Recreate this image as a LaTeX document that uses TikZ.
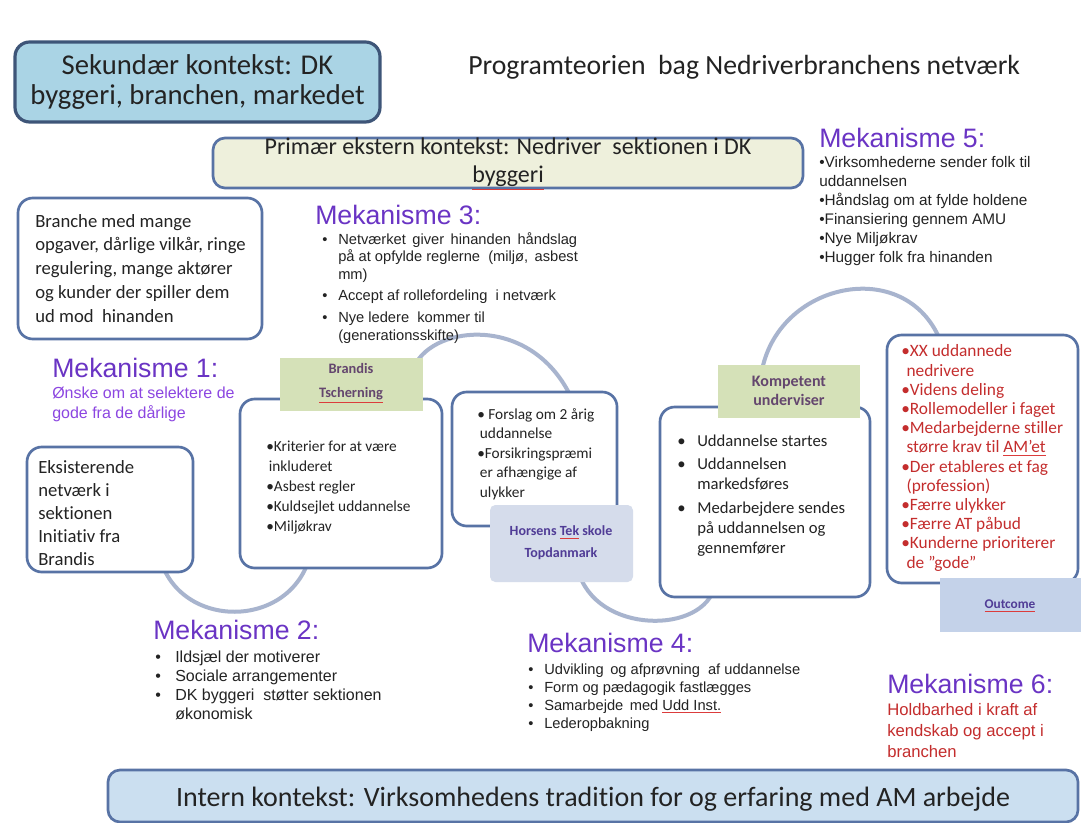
\documentclass[tikz,border=0pt]{standalone}
\usepackage{fontspec}
\setmainfont{Carlito}[Ligatures={TeX,NoCommon}]
\newfontfamily\arialf{Liberation Sans}
\usetikzlibrary{fit}
\definecolor{txt}{RGB}{35,35,35}
\definecolor{mpurple}{RGB}{106,52,196}
\definecolor{mpurplelt}{RGB}{140,70,225}
\definecolor{redt}{RGB}{196,45,45}
\definecolor{boxline}{RGB}{88,115,165}
\definecolor{sekline}{RGB}{62,85,120}
\definecolor{sekfill}{RGB}{170,212,229}
\definecolor{primfill}{RGB}{238,240,220}
\definecolor{internfill}{RGB}{203,223,240}
\definecolor{greenlab}{RGB}{213,225,184}
\definecolor{horslab}{RGB}{213,220,235}
\definecolor{outlab}{RGB}{196,210,233}
\definecolor{arccol}{RGB}{168,180,206}
\definecolor{labtxt}{RGB}{100,70,110}
\definecolor{hortxt}{RGB}{80,60,150}
\definecolor{squig}{RGB}{220,60,60}
\newcommand{\sq}[2]{\textcolor{squig}{\underline{\textcolor{#1}{#2}}}}
\newcommand{\bA}{\makebox[12pt][l]{•}}
\newcommand{\iA}{\hspace*{12pt}}
\newcommand{\bB}{\makebox[15pt][l]{•}}
\newcommand{\iB}{\hspace*{15pt}}
\begin{document}
\begin{tikzpicture}[x=0.75pt,y=-0.75pt,
  box/.style={draw=boxline, line width=2pt, rounded corners=11pt, fill=white, inner sep=0pt},
  lab/.style={inner sep=0pt, draw=none},
  arcline/.style={draw=arccol, line width=3pt},
  mtitle/.style={font=\arialf\fontsize{20}{24}\selectfont, text=mpurple, anchor=base west, inner sep=0pt},
  mtext/.style={text=txt, align=left, anchor=base west, inner sep=0pt},
  btext/.style={text=txt, align=left, anchor=base west, inner sep=0pt},
  ltext/.style={align=center, inner sep=0pt, font=\bfseries\fontsize{10.8}{18}\selectfont}
]
\useasboundingbox (0,0) rectangle (1091,823);
\fill[white] (0,0) rectangle (1091,823);

% arcs (drawn first, hidden under boxes at their ends)
\coordinate (a1) at (160,558); \coordinate (a2) at (310,556);
\coordinate (b1) at (415,365); \coordinate (b2) at (570,395);
\coordinate (c1) at (578,570); \coordinate (c2) at (715,585);
\coordinate (d1) at (762,370); \coordinate (d2) at (942,345);
\draw[arcline] (a1) .. controls (180,630) and (290,630) .. (a2);
\draw[arcline] (b1) .. controls (435,325) and (530,315) .. (b2);
\draw[arcline] (c1) .. controls (595,635) and (705,635) .. (c2);
\draw[arcline] (d1) .. controls (780,280) and (910,255) .. (d2);

% context boxes
\node[box, draw=sekline, line width=2.4pt, fill=sekfill, fit={(15,42) (380,122)}] (sek) {};
\node[align=center, inner sep=0pt, text=txt, font=\fontsize{21.5}{23}\selectfont] (sekT) at (sek.center) {Sekundær kontekst: DK\\byggeri, branchen, markedet};
\node[anchor=west, inner sep=0pt, text=txt, font=\fontsize{20.8}{24}\selectfont] (title) at (468,67) {Programteorien \ bag Nedriverbranchens netværk};
\node[box, fill=primfill, rounded corners=9pt, fit={(213,138) (803,188)}] (prim) {};
\node[align=center, inner sep=0pt, text=txt, font=\fontsize{18}{21}\selectfont] (primT) at (508,164) {Primær ekstern kontekst: Nedriver \ sektionen i DK\\\sq{txt}{byggeri}};
\node[box, fill=internfill, rounded corners=9pt, fit={(108,770) (1078,822)}] (intern) {};
\node[inner sep=0pt, text=txt, font=\fontsize{21}{24}\selectfont] (internT) at (593,799) {Intern kontekst: Virksomhedens tradition for og erfaring med AM arbejde};

% content boxes (text nodes anchored at the baseline of their last line)
\node[box, fit={(18,198) (262,339)}] (branche) {};
\node[btext, font=\fontsize{14}{17.8}\selectfont] (brancheT) at (35,322) {Branche med mange\\opgaver, dårlige vilkår, ringe\\regulering, mange aktører\\og kunder der spiller dem\\ud mod \ hinanden};

\node[box, fit={(27,447) (193,572)}] (eks) {};
\node[btext, font=\fontsize{14}{17.25}\selectfont] (eksT) at (38,565) {Eksisterende\\netværk i\\sektionen\\Initiativ fra\\Brandis};

\node[box, fit={(240,399) (442,568)}] (krit) {};
\node[btext, font=\fontsize{11.5}{15}\selectfont] (kritT) at (266,531) {•Kriterier for at være\\\hspace*{2pt}inkluderet\\•Asbest regler\\•Kuldsejlet uddannelse\\•Miljøkrav};

\node[box, fit={(452,392) (617,526)}] (forslag) {};
\node[btext, font=\fontsize{11.5}{14.6}\selectfont] (forslagT) at (477,497) {• Forslag om 2 årig\\\hspace*{2pt}uddannelse\\•Forsikringspræmi\\\hspace*{2pt}er afhængige af\\\hspace*{2pt}ulykker};

\node[box, fit={(660,407) (870,597)}] (komp) {};
\node[btext, font=\fontsize{12.5}{15}\selectfont] (kompT) at (677,553) {\bB Uddannelse startes\\[2.5pt]\bB Uddannelsen\\\iB markedsføres\\[2.5pt]\bB Medarbejdere sendes\\\iB på uddannelsen og\\\iB gennemfører};

\node[box, fit={(887,335) (1078,583)}] (outc) {};
\node[btext, text=redt, font=\fontsize{13}{14.4}\selectfont] (outcT) at (901,568) {•XX uddannede\\\hspace*{4pt}nedrivere\\•Videns deling\\•Rollemodeller i faget\\•Medarbejderne stiller\\\hspace*{4pt}større krav til \sq{redt}{AM'et}\\•Der etableres et fag\\\hspace*{4pt}(profession)\\•Færre ulykker\\•Færre AT påbud\\•Kunderne prioriterer\\\hspace*{4pt}de "gode"};

% label boxes
\node[lab, fill=greenlab, fit={(280,358) (423,411)}] (brandis) {};
\node[ltext, text=labtxt] (brandisT) at (351,383) {Brandis\\\sq{labtxt}{Tscherning}};
\node[lab, fill=greenlab, fit={(718,365) (860,418)}] (kompl) {};
\node[ltext, text=labtxt, font=\bfseries\fontsize{12}{14.3}\selectfont] (komplT) at (789,391) {Kompetent\\underviser};
\node[lab, fill=horslab, rounded corners=4pt, fit={(490,505) (633,582)}] (hors) {};
\node[ltext, text=hortxt, font=\bfseries\fontsize{10.5}{16.5}\selectfont] (horsT) at (561,543) {Horsens \sq{hortxt}{Tek} skole\\Topdanmark};
\node[lab, fill=outlab, fit={(940,578) (1081,632)}] (outl) {};
\node[ltext, text=hortxt, font=\bfseries\fontsize{10}{12}\selectfont] (outlT) at (1010,606) {\sq{hortxt}{Outcome}};

% mechanisms
\node[mtitle] (m1) at (52,377) {Mekanisme 1:};
\node[mtext, text=mpurplelt, font=\arialf\fontsize{12}{15}\selectfont] (m1T) at (52,418) {Ønske om at selektere de\\gode fra de dårlige};

\node[mtitle] (m2) at (153,639) {Mekanisme 2:};
\node[mtext, font=\arialf\fontsize{12}{14.25}\selectfont] (m2T) at (155,719) {\bB Ildsjæl der motiverer\\\bB Sociale arrangementer\\\bB DK byggeri \ støtter sektionen\\\iB økonomisk};

\node[mtitle] (m3) at (315,225) {Mekanisme 3:};
\node[mtext, font=\arialf\fontsize{11}{13.2}\selectfont] (m3T) at (322,340) {\bA Netværket \,giver \,hinanden \,håndslag\\\iA på at opfylde reglerne \ (miljø, \,asbest\\\iA mm)\\[3pt]\bA Accept af rollefordeling \ i netværk\\[3pt]\bA Nye ledere \ kommer til\\\iA (generationsskifte)};

\node[mtitle] (m4) at (527,652) {Mekanisme 4:};
\node[mtext, font=\arialf\fontsize{11}{13.5}\selectfont] (m4T) at (528,728) {\bA Udvikling \,og afprøvning \ af uddannelse\\\bA Form og pædagogik fastlægges\\\bA Samarbejde \,med \sq{txt}{Udd Inst.}\\\bA Lederopbakning};

\node[mtitle] (m5) at (819,148) {Mekanisme 5:};
\node[mtext, font=\arialf\fontsize{11.5}{14.3}\selectfont] (m5T) at (819,263) {•Virksomhederne sender folk til\\uddannelsen\\•Håndslag om at fylde holdene\\•Finansiering gennem AMU\\•Nye Miljøkrav\\•Hugger folk fra hinanden};

\node[mtitle] (m6) at (887,693) {Mekanisme 6:};
\node[mtext, text=redt, font=\arialf\fontsize{12.5}{15.75}\selectfont] (m6T) at (887,757) {Holdbarhed i kraft af\\kendskab og accept i\\branchen};
\end{tikzpicture}
\end{document}
